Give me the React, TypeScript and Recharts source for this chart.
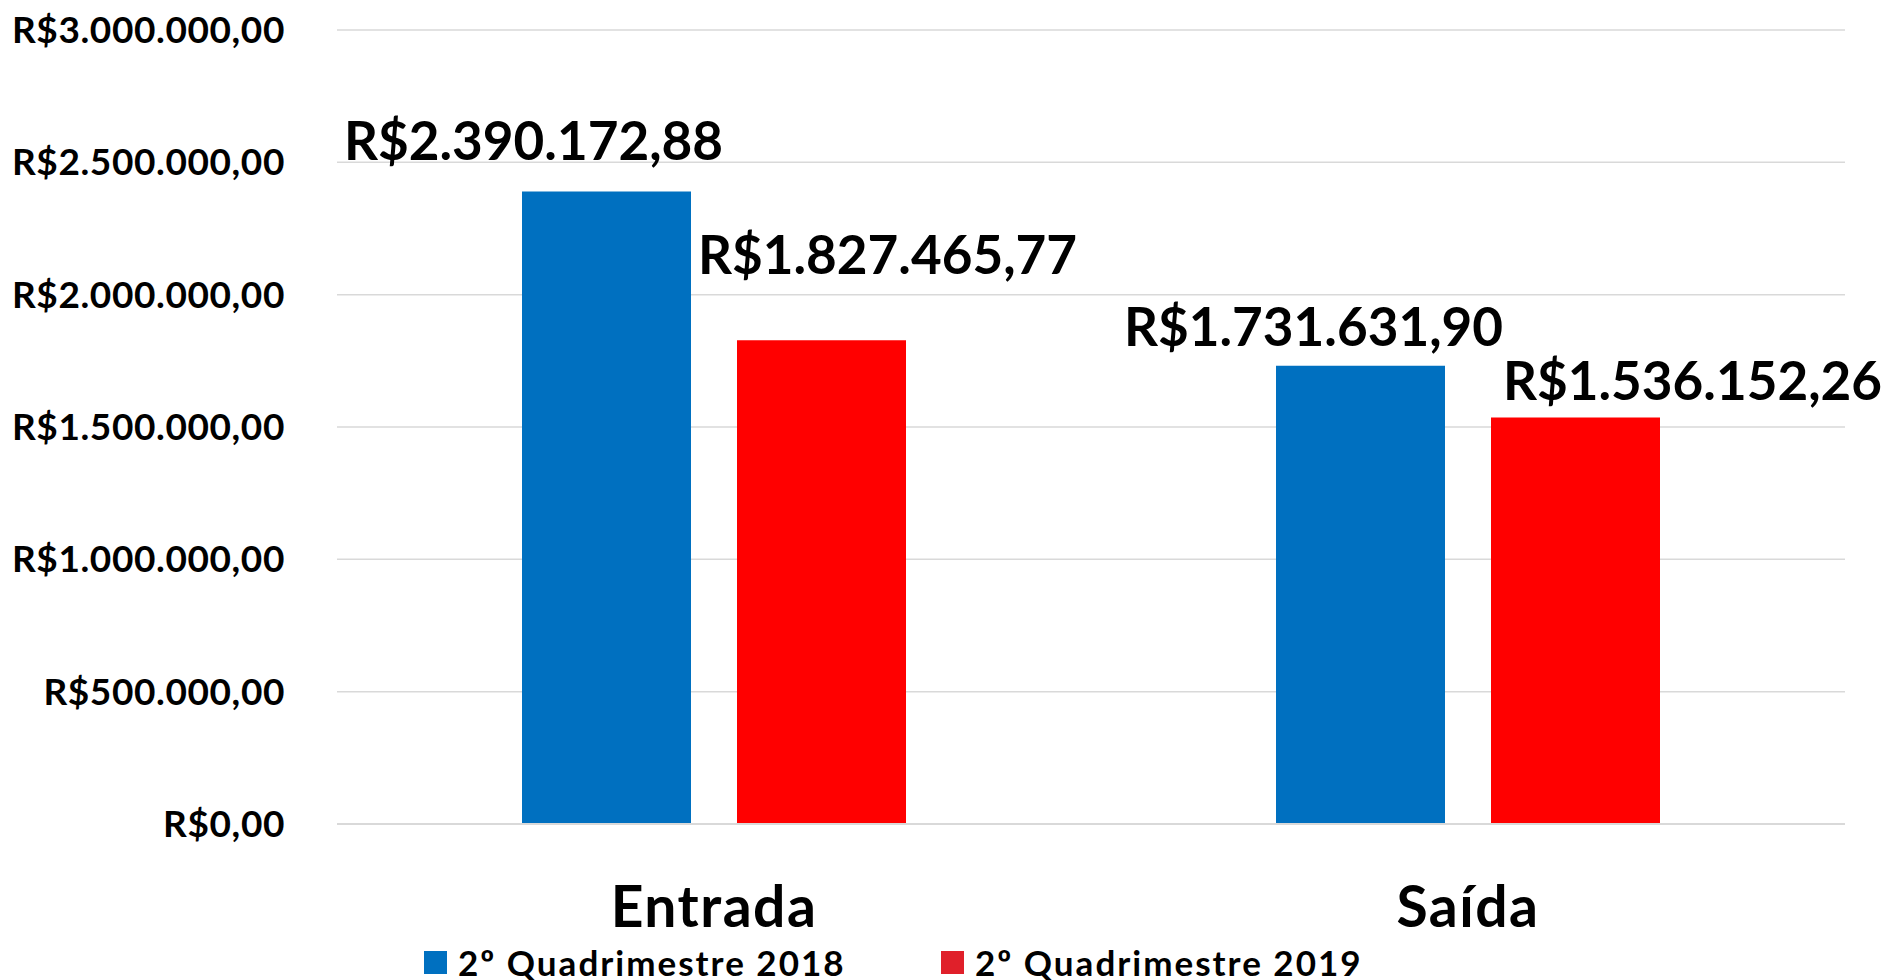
import React from 'react';
import { BarChart, Bar, XAxis, YAxis, CartesianGrid, Legend, LabelList } from 'recharts';

const categories = ['Entrada', 'Saída'];
const q2018 = [2390172.88, 1731631.9];
const q2019 = [1827465.77, 1536152.26];
const seriesNames = ['2º Quadrimestre 2018', '2º Quadrimestre 2019'];
const yTicks = [0, 500000, 1000000, 1500000, 2000000, 2500000, 3000000];

const data = categories.map((c, i) => ({ category: c, q2018: q2018[i], q2019: q2019[i] }));

const FONT = 'Lato, "Open Sans", sans-serif';
const BLUE = '#0070C0';
const RED = '#FF0000';
const LEGEND_COLORS = ['#0070C0', '#E0202A'];

// style offsets of the data labels relative to their bar (label centre dx, baseline above bar top)
const LABEL_SHIFT = [
  [ { dx: -73, dy: 31 }, { dx: -47, dy: 20 } ],
  [ { dx: 66, dy: 66 }, { dx: 117, dy: 17 } ],
];

const fmt = (v: number) => {
  const [i, d] = Number(v).toFixed(2).split('.');
  return 'R$' + i.replace(/\B(?=(\d{3})+(?!\d))/g, '.') + ',' + d;
};

const makeLabel = (s: number) => (props: any) => {
  const { x, y, width, value, index } = props;
  const sh = LABEL_SHIFT[s][index];
  return (
    <text
      x={Number(x) + Number(width) / 2 + sh.dx}
      y={Number(y) - sh.dy}
      textAnchor="middle"
      fontFamily={FONT}
      fontWeight={700}
      fontSize={53}
      fill="#000"
    >
      {fmt(value)}
    </text>
  );
};

const CatTick = (props: any) => {
  const { x, y, payload } = props;
  return (
    <text
      x={x}
      y={Number(y) + 103}
      textAnchor="middle"
      fontFamily={FONT}
      fontWeight={700}
      fontSize={57}
      letterSpacing={1.5}
      fill="#000"
    >
      {payload.value}
    </text>
  );
};

const renderLegend = (props: any) => {
  const { payload } = props;
  return (
    <div style={{ height: 36, position: 'relative', fontFamily: FONT, fontWeight: 700, fontSize: 35, letterSpacing: 2, color: '#000' }}>
      {(payload || []).map((p: any, i: number) => (
        <div
          key={i}
          style={{ position: 'absolute', left: i === 0 ? 424 : 941, top: 0, height: 36, display: 'flex', alignItems: 'center', whiteSpace: 'nowrap' }}
        >
          <span style={{ display: 'inline-block', width: 23, height: 23, background: LEGEND_COLORS[i], marginRight: 11 }} />
          <span style={{ lineHeight: '36px' }}>{p.value}</span>
        </div>
      ))}
    </div>
  );
};

export default function App() {
  return (
    <div style={{ position: 'absolute', left: 0, top: 0, width: 1885, height: 980, background: '#fff' }}>
      <BarChart
        width={1885}
        height={980}
        data={data}
        margin={{ top: 30, right: 40, left: 0, bottom: 0 }}
        barSize={169}
        barGap={46}
      >
        <CartesianGrid horizontal vertical={false} stroke="#D9D9D9" strokeWidth={1.5} />
        <XAxis
          dataKey="category"
          height={120}
          interval={0}
          axisLine={{ stroke: '#D9D9D9', strokeWidth: 2 }}
          tickLine={false}
          tickSize={0}
          tickMargin={0}
          tick={<CatTick />}
        />
        <YAxis
          width={337}
          domain={[0, 3000000]}
          ticks={yTicks}
          interval={0}
          tickFormatter={fmt}
          axisLine={false}
          tickLine={false}
          tickSize={0}
          tickMargin={52}
          tick={{ fontFamily: FONT, fontWeight: 700, fontSize: 37, letterSpacing: 0.6, fill: '#000' }}
        />
        <Legend verticalAlign="bottom" height={36} content={renderLegend} />
        <Bar dataKey="q2018" name={seriesNames[0]} fill={BLUE} isAnimationActive={false}>
          <LabelList dataKey="q2018" content={makeLabel(0)} />
        </Bar>
        <Bar dataKey="q2019" name={seriesNames[1]} fill={RED} isAnimationActive={false}>
          <LabelList dataKey="q2019" content={makeLabel(1)} />
        </Bar>
      </BarChart>
    </div>
  );
}
